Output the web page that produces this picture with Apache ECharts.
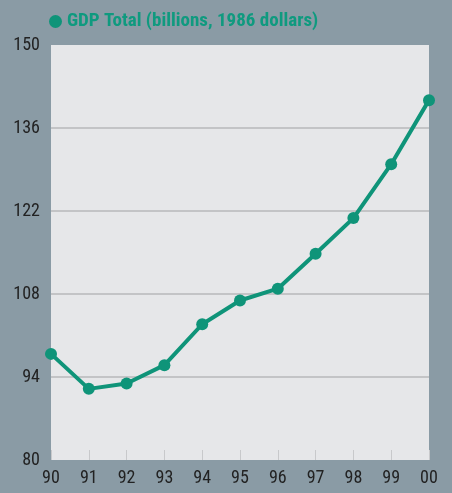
<!DOCTYPE html>
<html>
<head>
<meta charset="utf-8">
<script src="https://cdn.jsdelivr.net/npm/echarts@6/dist/echarts.min.js"></script>
<style>
  html, body { margin: 0; padding: 0; background: #8a9ba5; }
  #chart { width: 452px; height: 493px; }
</style>
</head>
<body>
<div id="chart"></div>
<script>
var years = ['90', '91', '92', '93', '94', '95', '96', '97', '98', '99', '00'];
var gdpTotal = [97.9, 92.0, 92.9, 96.0, 102.9, 106.9, 108.9, 114.8, 120.8, 129.9, 140.7];
var seriesName = 'GDP Total (billions, 1986 dollars)';

var font = '"Liberation Sans Narrow", "Roboto Condensed", "Arial Narrow", sans-serif';
var green = '#0f9479';

var chart = echarts.init(document.getElementById('chart'));
var option = {
    backgroundColor: '#8a9ba5',
    legend: {
        data: [seriesName],
        left: 44,
        top: 7,
        icon: 'circle',
        itemWidth: 13,
        itemHeight: 13,
        itemGap: 6,
        textStyle: {
            color: '#0f9a7f',
            fontFamily: font,
            fontWeight: 'bold',
            fontSize: 19
        }
    },
    grid: {
        left: 51,
        right: 23,
        top: 45,
        bottom: 33,
        show: true,
        backgroundColor: '#e6e7e9',
        borderWidth: 0
    },
    xAxis: {
        type: 'category',
        boundaryGap: false,
        data: years,
        axisLine: { show: false },
        axisTick: {
            show: true,
            inside: true,
            length: 10,
            lineStyle: { color: '#c8c9cb', width: 1 }
        },
        axisLabel: {
            color: '#222',
            fontFamily: font,
            fontSize: 18,
            margin: 9
        },
        splitLine: { show: false }
    },
    yAxis: {
        type: 'value',
        min: 80,
        max: 150,
        interval: 14,
        axisLine: { show: false },
        axisTick: { show: false },
        axisLabel: {
            color: '#222',
            fontFamily: font,
            fontSize: 18,
            margin: 11
        },
        splitLine: {
            show: true,
            showMinLine: false,
            showMaxLine: false,
            lineStyle: { color: '#c3c4c6', width: 2 }
        }
    },
    series: [
        {
            name: seriesName,
            type: 'line',
            data: gdpTotal,
            color: green,
            symbol: 'circle',
            symbolSize: 12,
            lineStyle: { width: 4, color: green },
            itemStyle: { color: green },
            animation: false
        }
    ]
};
chart.setOption(option);
window.addEventListener('resize', function () {
    chart.resize();
});
</script>
</body>
</html>
